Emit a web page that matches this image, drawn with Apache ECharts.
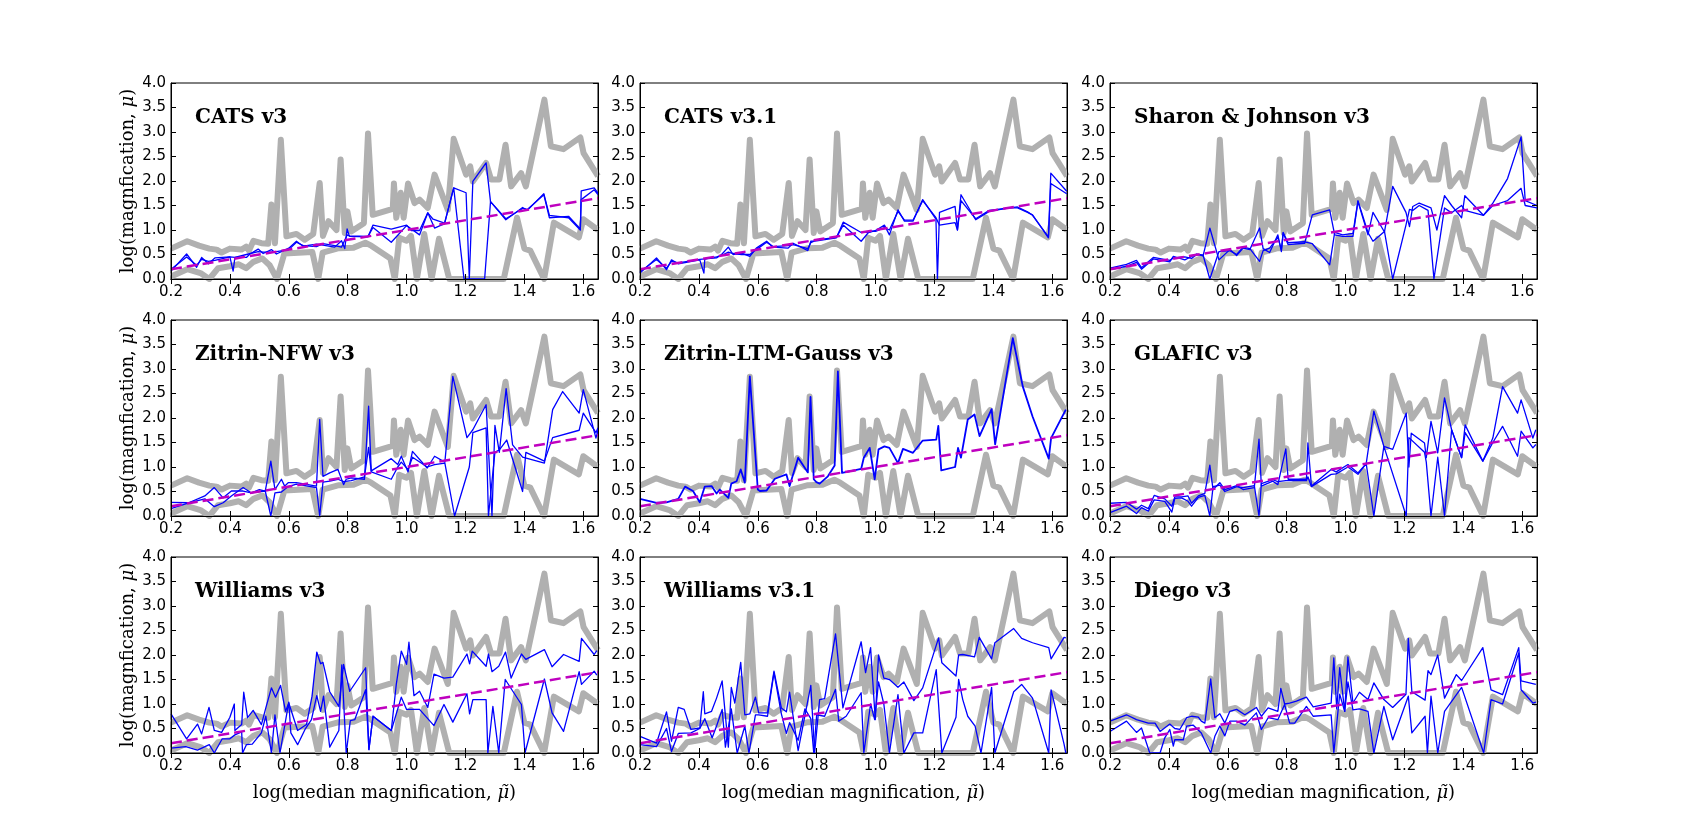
<!DOCTYPE html>
<html>
<head>
  <meta charset="utf-8">
  <title>Magnification vs median magnification</title>
  <script src="https://cdn.jsdelivr.net/npm/echarts@6/dist/echarts.min.js"></script>
  <style>
    html, body { margin: 0; padding: 0; background: #ffffff; }
    #chart { width: 1707px; height: 838px; }
  </style>
</head>
<body>
  <div id="chart"></div>
  <script>
    // tick values shared by every panel
    const xTicks = [0.2, 0.4, 0.6, 0.8, 1.0, 1.2, 1.4, 1.6];

    const panelNames = ['CATS v3', 'CATS v3.1', 'Sharon & Johnson v3',
      'Zitrin-NFW v3', 'Zitrin-LTM-Gauss v3', 'GLAFIC v3',
      'Williams v3', 'Williams v3.1', 'Diego v3'];

    // grey envelope, the same in every panel
    const grayUpper = [[0.2,0.62],[0.255,0.77],[0.295,0.68],[0.33,0.62],[0.355,0.6],[0.372,0.54],[0.4,0.62],[0.44,0.6],[0.455,0.66],[0.465,0.58],[0.48,0.78],[0.507,0.73],[0.53,0.72],[0.541,1.52],[0.553,0.73],[0.573,2.84],[0.592,0.87],[0.626,0.92],[0.654,0.8],[0.683,0.92],[0.705,1.96],[0.716,0.88],[0.735,1.18],[0.762,1.0],[0.776,2.44],[0.79,0.94],[0.799,1.38],[0.812,0.97],[0.855,1.14],[0.869,2.97],[0.885,1.31],[0.953,1.43],[0.957,1.95],[0.965,1.25],[0.98,1.76],[0.99,1.25],[1.005,1.95],[1.027,1.55],[1.044,1.62],[1.072,1.45],[1.095,2.13],[1.14,1.41],[1.16,2.86],[1.202,2.13],[1.216,2.3],[1.225,1.99],[1.27,2.37],[1.287,2.03],[1.315,2.03],[1.336,2.74],[1.355,1.89],[1.389,2.16],[1.405,1.89],[1.468,3.66],[1.49,2.71],[1.533,2.65],[1.59,2.89],[1.601,2.57],[1.65,2.1]];
    const grayLower = [[0.2,0.05],[0.255,0.2],[0.3,0.12],[0.33,0.0],[0.36,0.22],[0.4,0.26],[0.43,0.3],[0.455,0.22],[0.48,0.35],[0.51,0.42],[0.535,0.28],[0.56,0.0],[0.585,0.52],[0.68,0.55],[0.7,0.0],[0.715,0.54],[0.77,0.63],[0.82,0.64],[0.86,0.74],[0.88,0.68],[0.945,0.42],[0.96,0.0],[0.975,0.84],[1.0,0.78],[1.015,0.88],[1.035,0.0],[1.06,0.92],[1.085,0.0],[1.11,0.82],[1.145,0.0],[1.33,0.0],[1.375,1.25],[1.4,0.62],[1.42,0.58],[1.467,0.0],[1.5,1.15],[1.585,0.85],[1.6,1.22],[1.65,1.0]];
    const oneToOne = [[0.2,0.2],[1.65,1.65]];

    // blue curves, two per panel
    const catsV3A = [[0.2,0.16],[0.253,0.51],[0.287,0.24],[0.304,0.44],[0.327,0.31],[0.349,0.43],[0.4,0.45],[0.411,0.16],[0.417,0.44],[0.456,0.44],[0.468,0.51],[0.496,0.61],[0.513,0.52],[0.541,0.6],[0.558,0.51],[0.6,0.63],[0.626,0.77],[0.649,0.67],[0.694,0.71],[0.716,0.69],[0.756,0.65],[0.779,0.78],[0.79,0.62],[0.798,1.02],[0.806,0.87],[0.869,0.86],[0.886,1.1],[0.948,1.02],[1.0,1.1],[1.016,0.99],[1.044,0.99],[1.072,1.35],[1.095,1.04],[1.129,1.13],[1.16,1.86],[1.202,1.76],[1.213,0],[1.225,1.99],[1.27,2.37],[1.285,1.58],[1.337,1.21],[1.394,1.46],[1.41,1.4],[1.466,1.74],[1.485,1.3],[1.55,1.25],[1.59,1.0],[1.593,1.8],[1.637,1.86],[1.65,1.75]];
    const catsV3B = [[0.2,0.2],[0.253,0.45],[0.287,0.28],[0.304,0.4],[0.327,0.36],[0.349,0.38],[0.4,0.45],[0.417,0.44],[0.456,0.5],[0.496,0.56],[0.513,0.55],[0.541,0.55],[0.558,0.56],[0.6,0.6],[0.626,0.75],[0.649,0.68],[0.694,0.66],[0.716,0.72],[0.756,0.68],[0.779,0.65],[0.798,0.9],[0.806,0.88],[0.869,0.87],[0.886,1.05],[0.948,0.75],[1.0,1.09],[1.044,0.9],[1.072,1.35],[1.09,1.22],[1.129,1.14],[1.16,1.86],[1.195,0],[1.265,0],[1.285,1.58],[1.337,1.23],[1.394,1.44],[1.41,1.42],[1.466,1.72],[1.485,1.25],[1.55,1.28],[1.59,1.02],[1.593,1.62],[1.637,1.82],[1.65,1.72]];

    const catsV31A = [[0.2,0.12],[0.256,0.43],[0.29,0.19],[0.307,0.39],[0.33,0.31],[0.403,0.39],[0.417,0.12],[0.42,0.41],[0.46,0.43],[0.477,0.5],[0.5,0.65],[0.516,0.5],[0.545,0.53],[0.573,0.46],[0.595,0.63],[0.63,0.77],[0.652,0.65],[0.703,0.63],[0.72,0.73],[0.77,0.58],[0.78,0.77],[0.8,0.78],[0.867,0.84],[0.89,1.16],[0.951,0.95],[0.98,0.95],[1.0,0.99],[1.03,1.1],[1.047,0.9],[1.076,1.41],[1.098,1.18],[1.127,1.18],[1.16,1.62],[1.205,1.22],[1.21,0],[1.217,1.36],[1.27,1.48],[1.278,1.0],[1.29,1.72],[1.34,1.21],[1.386,1.38],[1.454,1.45],[1.482,1.45],[1.516,1.36],[1.533,1.31],[1.587,0.84],[1.595,2.16],[1.649,1.79]];
    const catsV31B = [[0.2,0.15],[0.256,0.4],[0.29,0.22],[0.307,0.36],[0.33,0.33],[0.403,0.4],[0.42,0.41],[0.46,0.45],[0.477,0.48],[0.5,0.55],[0.516,0.52],[0.545,0.5],[0.573,0.5],[0.595,0.6],[0.63,0.75],[0.652,0.66],[0.703,0.68],[0.72,0.7],[0.77,0.62],[0.78,0.74],[0.8,0.8],[0.867,0.85],[0.89,1.1],[0.951,0.77],[0.98,0.98],[1.0,0.97],[1.03,1.05],[1.047,1.0],[1.076,1.38],[1.098,1.2],[1.127,1.2],[1.16,1.6],[1.205,1.25],[1.217,1.1],[1.27,1.15],[1.278,1.0],[1.29,1.6],[1.34,1.23],[1.386,1.4],[1.454,1.45],[1.482,1.47],[1.516,1.37],[1.533,1.3],[1.587,0.86],[1.595,1.95],[1.649,1.74]];

    const sharonA = [[0.2,0.19],[0.256,0.26],[0.29,0.34],[0.307,0.2],[0.347,0.41],[0.403,0.35],[0.415,0.46],[0.454,0.39],[0.477,0.46],[0.494,0.51],[0.516,0.47],[0.539,1.04],[0.57,0.39],[0.607,0.6],[0.63,0.48],[0.652,0.63],[0.675,0.6],[0.708,1.04],[0.72,0.62],[0.742,0.54],[0.77,0.9],[0.782,0.56],[0.788,0.94],[0.805,0.7],[0.861,0.73],[0.887,1.31],[0.946,1.41],[0.963,0.9],[0.99,0.87],[1.025,0.87],[1.042,1.58],[1.076,0.9],[1.093,1.36],[1.132,0.96],[1.16,1.89],[1.205,1.36],[1.217,1.07],[1.228,1.48],[1.25,1.55],[1.29,1.45],[1.31,1.0],[1.336,1.7],[1.36,1.5],[1.394,1.25],[1.405,1.7],[1.468,1.3],[1.5,1.55],[1.55,2.05],[1.596,2.9],[1.61,1.6],[1.65,1.5]];
    const sharonB = [[0.2,0.22],[0.256,0.3],[0.29,0.38],[0.307,0.23],[0.347,0.44],[0.403,0.38],[0.415,0.43],[0.454,0.45],[0.477,0.42],[0.494,0.5],[0.516,0.49],[0.539,0],[0.57,0.56],[0.607,0.58],[0.63,0.5],[0.652,0.65],[0.675,0.62],[0.708,0.36],[0.72,0.58],[0.742,0.63],[0.77,0.85],[0.782,0.6],[0.788,0.95],[0.805,0.74],[0.861,0.76],[0.887,0.72],[0.946,0.29],[0.963,0.95],[0.99,0.9],[1.025,0.93],[1.042,1.6],[1.076,0.95],[1.093,0.77],[1.132,0.97],[1.16,0],[1.205,1.1],[1.217,1.42],[1.228,1.4],[1.25,1.5],[1.28,1.4],[1.3,0],[1.336,1.45],[1.36,1.35],[1.394,1.5],[1.405,1.4],[1.468,1.3],[1.5,1.5],[1.55,1.6],[1.596,1.85],[1.61,1.5],[1.65,1.45]];

    const zitrinNfwA = [[0.2,0.28],[0.26,0.27],[0.315,0.41],[0.347,0.58],[0.377,0.37],[0.405,0.51],[0.445,0.51],[0.473,0.47],[0.5,0.54],[0.52,0.51],[0.539,1.12],[0.553,0.54],[0.575,0.75],[0.586,0.61],[0.598,0.68],[0.626,0.68],[0.694,0.61],[0.705,1.97],[0.716,0.81],[0.739,0.88],[0.767,0.95],[0.786,0.64],[0.795,0.75],[0.812,0.78],[0.857,0.75],[0.871,2.24],[0.88,0.92],[0.948,1.17],[0.97,1.05],[0.982,1.22],[1.005,0.9],[1.02,1.32],[1.07,0.98],[1.095,1.22],[1.13,1.1],[1.157,2.85],[1.205,1.6],[1.225,1.76],[1.27,2.27],[1.29,0],[1.3,1.85],[1.315,1.3],[1.338,2.6],[1.36,1.45],[1.394,1.2],[1.468,1.08],[1.496,2.17],[1.53,2.54],[1.586,2.1],[1.6,2.58],[1.643,1.59],[1.65,1.75]];
    const zitrinNfwB = [[0.2,0.15],[0.26,0.27],[0.315,0.35],[0.347,0.19],[0.377,0.27],[0.405,0.41],[0.445,0.58],[0.473,0.47],[0.5,0.5],[0.52,0.51],[0.539,0],[0.553,0.47],[0.575,0.49],[0.598,0.6],[0.626,0.65],[0.694,0.58],[0.705,0],[0.716,0.69],[0.739,0.71],[0.767,0.75],[0.786,0.7],[0.812,0.72],[0.857,0.8],[0.871,1.4],[0.88,0.9],[0.948,0.75],[0.97,1.0],[0.982,1.1],[1.005,0.95],[1.02,1.2],[1.07,1.0],[1.095,1.05],[1.13,1.08],[1.163,0],[1.213,1.0],[1.225,1.7],[1.27,1.8],[1.278,0],[1.3,1.3],[1.315,1.35],[1.34,1.55],[1.394,0.5],[1.405,1.3],[1.468,1.12],[1.496,1.6],[1.586,1.75],[1.6,2.1],[1.643,1.7],[1.65,1.8]];

    const zitrinLtmA = [[0.2,0.35],[0.256,0.27],[0.29,0.28],[0.33,0.35],[0.353,0.6],[0.38,0.51],[0.403,0.28],[0.42,0.6],[0.443,0.61],[0.46,0.46],[0.471,0.54],[0.5,0.37],[0.51,0.66],[0.528,0.71],[0.542,0.95],[0.556,0.68],[0.573,2.85],[0.6,0.54],[0.607,0.51],[0.63,0.52],[0.658,0.76],[0.697,0.85],[0.708,0.61],[0.737,1.19],[0.77,0.89],[0.779,2.43],[0.79,0.75],[0.799,0.69],[0.81,0.66],[0.838,0.81],[0.861,1.03],[0.872,2.95],[0.886,0.88],[0.951,0.96],[0.96,1.19],[0.98,1.39],[0.997,0.75],[1.01,1.36],[1.03,1.42],[1.047,1.39],[1.076,1.08],[1.093,1.37],[1.127,1.29],[1.16,1.54],[1.206,1.56],[1.213,1.84],[1.223,0.93],[1.27,1.0],[1.28,1.39],[1.29,1.19],[1.313,1.97],[1.336,2.07],[1.353,1.63],[1.394,2.18],[1.406,1.46],[1.466,3.63],[1.5,2.64],[1.533,2.03],[1.588,1.17],[1.596,1.59],[1.646,2.17]];
    const zitrinLtmB = zitrinLtmA;

    const glaficA = [[0.2,0.26],[0.256,0.28],[0.29,0.14],[0.307,0.22],[0.33,0.15],[0.35,0.42],[0.386,0.35],[0.41,0.2],[0.42,0.39],[0.443,0.39],[0.465,0.41],[0.477,0.26],[0.5,0.41],[0.522,0.46],[0.539,1.04],[0.55,0.54],[0.573,0.68],[0.59,0.54],[0.63,0.62],[0.652,0.54],[0.69,0.58],[0.706,1.57],[0.714,0.61],[0.753,0.71],[0.77,0.64],[0.797,1.37],[0.805,0.75],[0.867,0.75],[0.872,1.49],[0.884,0.61],[0.951,0.95],[0.968,0.9],[1.008,1.05],[1.042,0.88],[1.07,1.07],[1.096,2.14],[1.13,1.42],[1.16,1.36],[1.206,2.1],[1.215,1.0],[1.223,1.69],[1.268,1.49],[1.274,1.19],[1.29,1.93],[1.313,1.29],[1.336,2.41],[1.36,1.76],[1.394,1.19],[1.406,1.86],[1.466,1.12],[1.5,1.59],[1.533,2.64],[1.584,2.1],[1.596,2.37],[1.636,1.59],[1.646,1.76]];
    const glaficB = [[0.2,0.07],[0.256,0.2],[0.29,0.05],[0.307,0.17],[0.33,0.1],[0.35,0.33],[0.386,0.3],[0.41,0.08],[0.42,0.36],[0.443,0.37],[0.465,0.3],[0.477,0.2],[0.5,0.38],[0.522,0.42],[0.539,0],[0.55,0.6],[0.573,0.63],[0.59,0.5],[0.63,0.6],[0.652,0.58],[0.69,0.62],[0.706,0],[0.714,0.66],[0.753,0.74],[0.77,0.7],[0.797,0.72],[0.805,0.72],[0.867,0.72],[0.872,0.8],[0.884,0.6],[0.951,0.85],[0.968,0.86],[1.008,1.0],[1.042,0.85],[1.07,1.07],[1.096,0],[1.13,1.42],[1.206,0],[1.215,1.6],[1.268,1.3],[1.274,1.1],[1.29,0],[1.313,1.2],[1.336,0],[1.36,1.76],[1.394,1.19],[1.406,1.7],[1.466,1.12],[1.5,1.5],[1.533,1.83],[1.584,1.22],[1.596,1.73],[1.636,1.39],[1.646,1.46]];

    const williamsA = [[0.2,0.8],[0.253,0.29],[0.29,0.59],[0.304,0.39],[0.329,0.93],[0.347,0.46],[0.372,0.42],[0.4,0.73],[0.415,1.0],[0.417,0.46],[0.44,0.58],[0.447,1.24],[0.46,0.72],[0.479,0.87],[0.507,0.58],[0.522,0.92],[0.541,1.33],[0.555,1.14],[0.572,1.38],[0.589,0.85],[0.6,1.02],[0.63,0.46],[0.66,0.58],[0.679,1.16],[0.695,2.06],[0.708,1.82],[0.716,1.85],[0.739,1.25],[0.77,0.95],[0.786,1.81],[0.807,1.26],[0.861,1.74],[0.872,0.07],[0.886,0.75],[0.948,0.46],[0.965,1.4],[0.982,2.08],[1.0,1.81],[1.008,2.26],[1.025,1.17],[1.044,1.26],[1.072,0.93],[1.093,1.61],[1.127,1.53],[1.157,1.55],[1.205,2.02],[1.214,1.82],[1.223,2.08],[1.27,1.77],[1.278,2.02],[1.29,1.66],[1.313,1.77],[1.336,2.06],[1.355,1.53],[1.39,2.02],[1.405,1.91],[1.468,2.11],[1.494,1.76],[1.533,2.01],[1.586,1.87],[1.594,2.34],[1.637,2.01],[1.646,2.09]];
    const williamsB = [[0.2,0.1],[0.25,0.13],[0.29,0.06],[0.33,0.17],[0.347,0],[0.374,0.29],[0.4,0.29],[0.417,0.37],[0.44,0.43],[0.443,0],[0.456,0.17],[0.476,0.18],[0.507,0.41],[0.522,0.75],[0.541,0.0],[0.553,0.78],[0.57,0],[0.6,1.04],[0.607,0.41],[0.63,0.17],[0.655,0.48],[0.677,0.68],[0.695,1.17],[0.708,0.85],[0.718,1.16],[0.739,0.12],[0.77,0.46],[0.78,1.8],[0.795,0],[0.809,0.66],[0.824,0.68],[0.861,1.29],[0.872,0.07],[0.886,0.75],[0.948,0.46],[0.982,1.14],[1.0,0.89],[1.044,0.89],[1.093,0.56],[1.127,0.99],[1.157,0.63],[1.205,1.21],[1.214,0.8],[1.225,1.09],[1.27,1.09],[1.276,0],[1.293,0.95],[1.313,0],[1.335,1.5],[1.39,0.99],[1.402,0],[1.468,1.51],[1.494,0.82],[1.533,0.44],[1.586,1.66],[1.594,1.4],[1.637,1.67],[1.646,1.59]];

    const williams31A = [[0.2,0.34],[0.256,0.2],[0.29,0.84],[0.307,0.24],[0.33,0.93],[0.35,0.89],[0.373,0.48],[0.403,0.51],[0.415,1.25],[0.42,0.8],[0.443,0.85],[0.46,1.12],[0.479,1.47],[0.5,0.12],[0.51,1.34],[0.522,1.02],[0.542,1.85],[0.556,0.78],[0.573,0.8],[0.592,1.14],[0.603,0.82],[0.633,0.82],[0.655,1.67],[0.68,0.92],[0.697,0.84],[0.708,1.24],[0.737,0.05],[0.78,1.38],[0.793,0],[0.81,1.09],[0.827,1.11],[0.864,2.43],[0.889,0.92],[0.951,2.27],[0.966,1.64],[0.983,2.15],[0.999,0.68],[1.01,2.0],[1.028,1.53],[1.047,1.5],[1.076,1.34],[1.096,1.45],[1.13,1.07],[1.16,1.33],[1.214,2.35],[1.225,1.84],[1.273,1.57],[1.282,2.0],[1.296,2.01],[1.336,1.96],[1.352,2.36],[1.394,1.92],[1.405,2.25],[1.469,2.54],[1.496,2.34],[1.533,2.25],[1.588,2.15],[1.596,1.92],[1.64,2.36],[1.646,2.35]];
    const williams31B = [[0.2,0.17],[0.256,0.13],[0.29,0.5],[0.307,0.03],[0.33,0.4],[0.373,0.41],[0.403,0.5],[0.42,0.7],[0.445,0.31],[0.46,0.55],[0.479,0.89],[0.49,0.12],[0.51,0.9],[0.53,0.0],[0.556,0.55],[0.57,0.0],[0.592,0.78],[0.603,0.78],[0.633,0.75],[0.655,1.64],[0.68,0.8],[0.697,0.4],[0.708,0.62],[0.737,0.26],[0.76,0.9],[0.78,0.7],[0.79,0.0],[0.8,0.78],[0.827,0.75],[0.864,1.3],[0.875,0.65],[0.9,0.75],[0.951,1.23],[0.96,0.0],[0.983,1.0],[0.997,0.68],[1.01,1.45],[1.028,1.0],[1.047,0.0],[1.076,1.19],[1.096,0.0],[1.13,0.41],[1.16,0.41],[1.206,1.7],[1.225,0.0],[1.273,0.73],[1.282,1.5],[1.296,1.09],[1.313,0.75],[1.338,0.55],[1.358,0.0],[1.394,1.34],[1.405,0.0],[1.469,1.25],[1.496,1.4],[1.533,1.12],[1.588,0.0],[1.596,1.29],[1.64,0.18],[1.646,0.0]];

    const diegoA = [[0.2,0.65],[0.256,0.78],[0.29,0.68],[0.33,0.61],[0.353,0.61],[0.37,0.44],[0.403,0.59],[0.42,0.5],[0.437,0.48],[0.46,0.72],[0.477,0.75],[0.5,0.73],[0.51,0.65],[0.522,0.61],[0.542,1.51],[0.556,0.72],[0.573,0.8],[0.59,0.61],[0.607,0.85],[0.63,0.89],[0.658,0.78],[0.697,0.93],[0.714,0.75],[0.737,0.92],[0.77,0.85],[0.78,1.32],[0.793,1.0],[0.81,1.02],[0.833,1.06],[0.867,1.14],[0.89,0.94],[0.951,1.02],[0.96,1.94],[0.97,0.9],[0.98,1.74],[0.997,0.85],[1.008,1.96],[1.025,1.02],[1.047,1.24],[1.076,1.09],[1.096,1.43],[1.13,1.09],[1.16,0.93],[1.205,1.2],[1.213,2.34],[1.225,1.25],[1.27,1.08],[1.28,1.68],[1.29,1.6],[1.313,2.0],[1.336,1.12],[1.376,1.6],[1.394,1.48],[1.466,2.15],[1.494,1.29],[1.533,1.19],[1.588,2.15],[1.596,1.47],[1.646,1.4]];
    const diegoB = [[0.2,0.44],[0.256,0.65],[0.29,0.42],[0.307,0.51],[0.335,0],[0.37,0],[0.386,0.31],[0.403,0.48],[0.415,0.14],[0.42,0.27],[0.449,0.27],[0.46,0.55],[0.482,0.57],[0.51,0.41],[0.542,0],[0.556,0.34],[0.573,0.55],[0.59,0.35],[0.607,0.65],[0.63,0.65],[0.658,0.57],[0.697,0.82],[0.714,0.48],[0.737,0.72],[0.77,0.68],[0.793,0.99],[0.81,0.61],[0.827,0.61],[0.867,0.95],[0.89,0.75],[0.951,0.78],[0.96,0],[0.98,1.2],[0.997,0.85],[1.008,1.45],[1.025,0.88],[1.047,0.9],[1.076,0.85],[1.096,0],[1.13,0.95],[1.16,0.27],[1.213,1.16],[1.225,0.41],[1.27,0.75],[1.278,0],[1.29,1.16],[1.313,0],[1.336,0.85],[1.394,1.34],[1.469,0],[1.494,1.09],[1.533,1.0],[1.588,2.04],[1.596,1.29],[1.636,1.02],[1.646,1.04]];

    const blueLines = [
      [catsV3A, catsV3B], [catsV31A, catsV31B], [sharonA, sharonB],
      [zitrinNfwA, zitrinNfwB], [zitrinLtmA, zitrinLtmB], [glaficA, glaficB],
      [williamsA, williamsB], [williams31A, williams31B], [diegoA, diegoB]
    ];

    // layout in pixels
    const colLeft = [171, 640, 1110];
    const rowTop = [83, 320, 557];
    const panelW = 427;
    const panelH = 196;

    const chart = echarts.init(document.getElementById('chart'), null, { renderer: 'canvas' });

    const tickFont = { fontFamily: 'DejaVu Sans', fontSize: 15, color: '#000' };
    const serifName = {
      fontFamily: 'DejaVu Serif', fontSize: 18, color: '#000',
      rich: { i: { fontFamily: 'DejaVu Serif', fontStyle: 'italic', fontSize: 18, color: '#000' } }
    };

    const grids = [], xAxes = [], yAxes = [], series = [], titles = [];
    const mirrorX = [], mirrorY = [];

    for (let i = 0; i < 9; i++) {
      const r = Math.floor(i / 3), c = i % 3;
      grids.push({
        left: colLeft[c], top: rowTop[r], width: panelW, height: panelH,
        show: true, borderColor: '#000', borderWidth: 1, backgroundColor: 'transparent'
      });
      titles.push({
        text: panelNames[i], left: colLeft[c] + 19, top: rowTop[r] + 20,
        textStyle: { fontFamily: 'DejaVu Serif', fontWeight: 'bold', fontSize: 20, color: '#000' }
      });
      const xa = {
        type: 'value', gridIndex: i, min: 0.2, max: 1.65, interval: 0.2, z: 10,
        axisLine: { show: true, lineStyle: { color: '#000', width: 1 } },
        axisTick: { show: true, inside: true, length: 5, lineStyle: { color: '#000' }, customValues: xTicks },
        axisLabel: Object.assign({ margin: 6, customValues: xTicks,
          formatter: v => (Math.abs(v / 0.2 - Math.round(v / 0.2)) < 1e-6 ? v.toFixed(1) : '') }, tickFont),
        splitLine: { show: false }
      };
      if (r === 2) {
        xa.name = 'log(median magnification, {i|\u03bc\u0303})';
        xa.nameLocation = 'middle';
        xa.nameGap = 31;
        xa.nameTextStyle = serifName;
      }
      xAxes.push(xa);
      mirrorX.push({
        type: 'value', gridIndex: i, position: 'top', min: 0.2, max: 1.65, interval: 0.2, z: 10,
        axisLine: { show: true, lineStyle: { color: '#000', width: 1 } },
        axisTick: { show: true, inside: true, length: 5, lineStyle: { color: '#000' }, customValues: xTicks },
        axisLabel: { show: false }, splitLine: { show: false }
      });
      const ya = {
        type: 'value', gridIndex: i, min: 0, max: 4, interval: 0.5, z: 10,
        axisLine: { show: true, lineStyle: { color: '#000', width: 1 } },
        axisTick: { show: true, inside: true, length: 5, lineStyle: { color: '#000' } },
        axisLabel: Object.assign({ margin: 5, formatter: v => v.toFixed(1) }, tickFont),
        splitLine: { show: false }
      };
      if (c === 0) {
        ya.name = 'log(magnfication, {i|\u03bc})';
        ya.nameLocation = 'middle';
        ya.nameGap = 34;
        ya.nameTextStyle = serifName;
      }
      yAxes.push(ya);
      mirrorY.push({
        type: 'value', gridIndex: i, position: 'right', min: 0, max: 4, interval: 0.5, z: 10,
        axisLine: { show: true, lineStyle: { color: '#000', width: 1 } },
        axisTick: { show: true, inside: true, length: 5, lineStyle: { color: '#000' } },
        axisLabel: { show: false }, splitLine: { show: false }
      });

      const base = { type: 'line', xAxisIndex: i, yAxisIndex: i, showSymbol: false, symbol: 'none', silent: true, animation: false };
      series.push(Object.assign({}, base, { data: grayUpper, z: 2, lineStyle: { color: '#b0b0b0', width: 6, join: 'round' } }));
      series.push(Object.assign({}, base, { data: grayLower, z: 2, lineStyle: { color: '#b0b0b0', width: 6, join: 'round' } }));
      const pair = blueLines[i];
      series.push(Object.assign({}, base, { data: pair[0], z: 3, lineStyle: { color: '#0000ff', width: 1.3, join: 'round' } }));
      if (pair[1] !== pair[0]) {
        series.push(Object.assign({}, base, { data: pair[1], z: 3, lineStyle: { color: '#0000ff', width: 1.3, join: 'round' } }));
      } else {
        series[series.length - 1].lineStyle.width = 1.8;
      }
      series.push(Object.assign({}, base, { data: oneToOne, z: 4, lineStyle: { color: '#bf00bf', width: 2.5, type: [11, 5] } }));
    }

    chart.setOption({
      animation: false,
      backgroundColor: '#ffffff',
      title: titles,
      grid: grids,
      xAxis: xAxes.concat(mirrorX),
      yAxis: yAxes.concat(mirrorY),
      series: series
    });
  </script>
</body>
</html>
